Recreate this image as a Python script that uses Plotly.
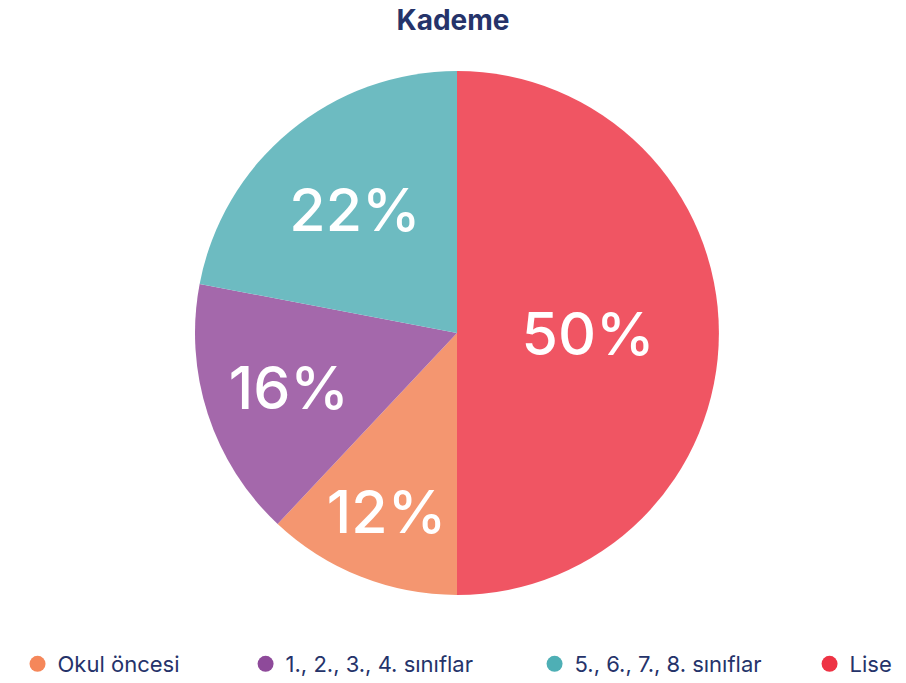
import plotly.graph_objects as go

categories = ["Okul öncesi", "1., 2., 3., 4. sınıflar", "5., 6., 7., 8. sınıflar", "Lise"]
values = [12, 16, 22, 50]
slice_colors = ["#F49670", "#A468AB", "#6DBBC1", "#F05563"]
legend_colors = ["#F5875A", "#8E4A9A", "#4EAFB5", "#EE3344"]
title_text = "Kademe"

FONT = "Inter, 'Open Sans', sans-serif"
NAVY = "#25336A"

fig = go.Figure()
fig.add_trace(go.Pie(
    labels=categories,
    values=values,
    sort=False,
    direction="clockwise",
    rotation=180,
    marker=dict(colors=slice_colors, line=dict(width=0)),
    textinfo="percent",
    textposition="inside",
    insidetextorientation="horizontal",
    textfont=dict(color="white", size=59, family=FONT, weight=500),
    showlegend=False,
    hoverinfo="label+percent",
))

legend_x = [-0.0122, 0.2536, 0.5904, 0.9109]
legend_names = ["legend", "legend2", "legend3", "legend4"]
for name, col, lg in zip(categories, legend_colors, legend_names):
    fig.add_trace(go.Scatter(
        x=[None], y=[None], mode="markers", name=name,
        marker=dict(color=col, size=16, symbol="circle"),
        legend=lg, showlegend=True, hoverinfo="skip",
    ))

layout_legends = {}
for lg, lx in zip(legend_names, legend_x):
    layout_legends[lg] = dict(
        x=lx, y=-0.1317, xanchor="left", yanchor="middle",
        orientation="h", font=dict(size=22, color=NAVY, family=FONT),
        bgcolor="rgba(0,0,0,0)", borderwidth=0,
    )

fig.update_layout(
    width=906, height=683,
    margin=dict(l=28, r=20, t=71, b=88, autoexpand=False),
    paper_bgcolor="white", plot_bgcolor="white",
    title=dict(text="<b>" + title_text + "</b>", x=0.5, xanchor="center",
               y=1 - 20 / 683, yanchor="middle",
               font=dict(size=28, color=NAVY, family=FONT)),
    xaxis=dict(visible=False), yaxis=dict(visible=False),
    **layout_legends,
)

fig.write_html(
    "out.html",
    config={"displayModeBar": False},
    post_script="document.body.style.margin='0';document.body.style.overflow='hidden';",
)
